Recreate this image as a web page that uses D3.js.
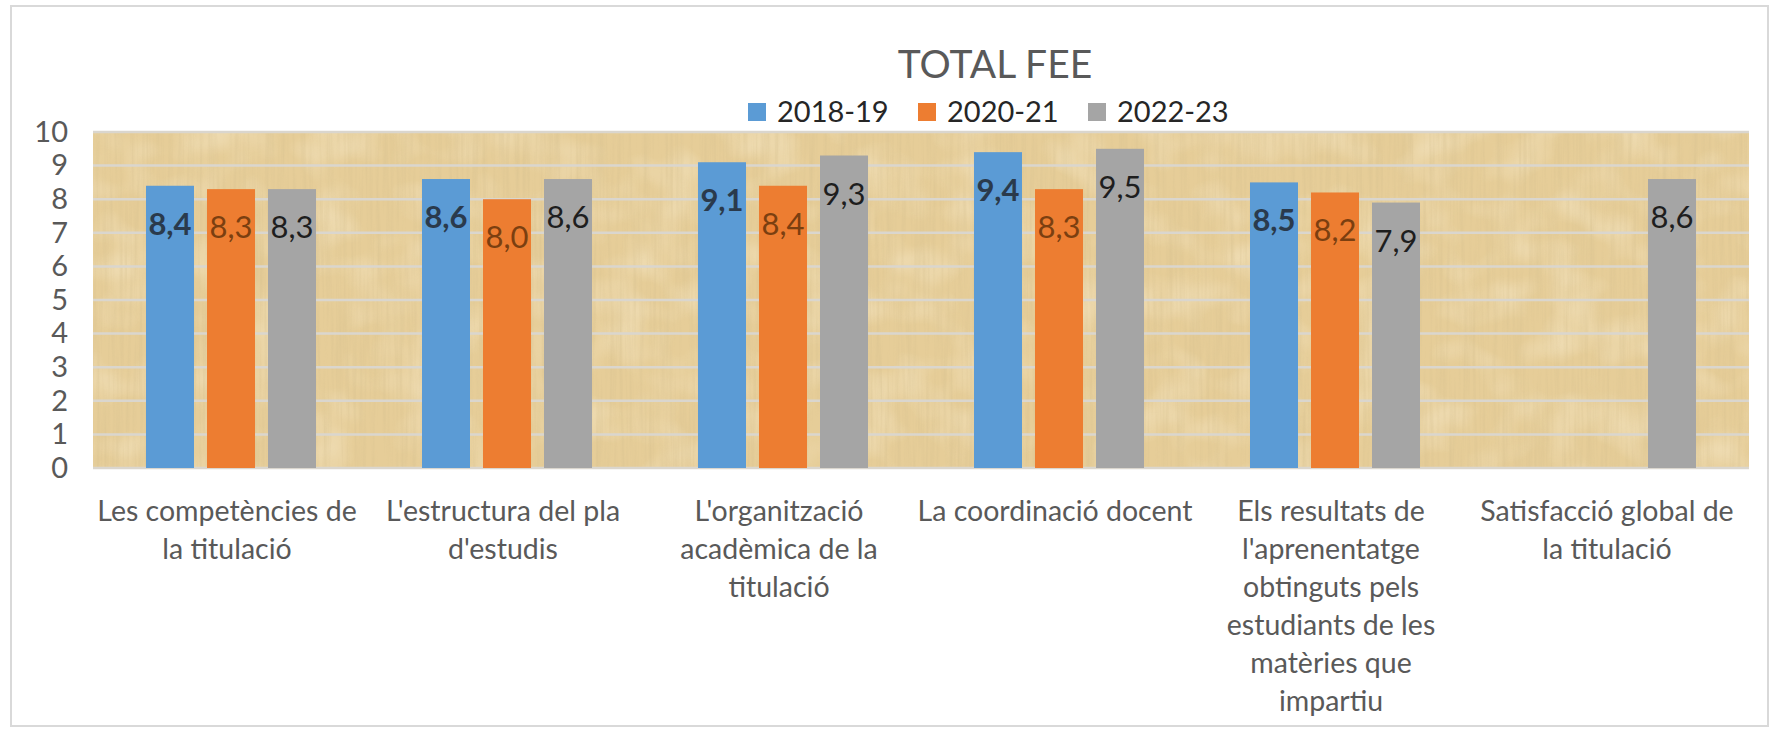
<!DOCTYPE html>
<meta charset="utf-8">
<style>
body { margin: 0; background: #fff; }
svg text { font-family: Lato, "Open Sans", sans-serif; }
</style>
<svg width="1776" height="732"></svg>
<script src="https://d3js.org/d3.v7.min.js"></script>
<script>
var categories = [
  "Les competències de\nla titulació",
  "L'estructura del pla\nd'estudis",
  "L'organització\nacadèmica de la\ntitulació",
  "La coordinació docent",
  "Els resultats de\nl'aprenentatge\nobtinguts pels\nestudiants de les\nmatèries que\nimpartiu",
  "Satisfacció global de\nla titulació"
];
var series = ["2018-19", "2020-21", "2022-23"];
var values2018 = [8.4, 8.6, 9.1, 9.4, 8.5, null];
var values2020 = [8.3, 8.0, 8.4, 8.3, 8.2, null];
var values2022 = [8.3, 8.6, 9.3, 9.5, 7.9, 8.6];
var yTicks = [0, 1, 2, 3, 4, 5, 6, 7, 8, 9, 10];

var colors = ["#5b9bd5", "#ed7d31", "#a5a5a5"];
var labelColors = ["#2a3a4c", "#7b3f10", "#1e1e1e"];
var labelWeights = [700, 400, 400];

var svg = d3.select("svg"),
    width = +svg.attr("width"),
    height = +svg.attr("height");

var plotLeft = 93, plotRight = 1749, plotTop = 132, plotBottom = 468;

var allValues = [values2018, values2020, values2022];
var rows = categories.map(function(c, i) {
  return { cat: c, vals: series.map(function(s, j) { return { key: s, idx: j, v: allValues[j][i] }; }) };
});

var x0 = d3.scaleBand().domain(categories).range([plotLeft, plotRight]).paddingInner(0.384).paddingOuter(0.192);
var x1 = d3.scaleBand().domain(series).range([0, x0.bandwidth()]).paddingInner(0.213);
var y = d3.scaleLinear().domain([0, 10]).range([plotBottom, plotTop]);

// chart frame
svg.append("rect")
    .attr("x", 11).attr("y", 6).attr("width", 1757).attr("height", 720)
    .attr("fill", "#fff").attr("stroke", "#d9d9d9").attr("stroke-width", 2);

// papyrus-like texture
var defs = svg.append("defs");
var f1 = defs.append("filter").attr("id", "fibers").attr("x", 0).attr("y", 0).attr("width", 1).attr("height", 1);
f1.append("feTurbulence").attr("type", "fractalNoise").attr("baseFrequency", "0.3 0.01").attr("numOctaves", 3).attr("seed", 7);
f1.append("feColorMatrix").attr("type", "matrix")
    .attr("values", "0 0 0 0 0.66  0 0 0 0 0.52  0 0 0 0 0.27  1.4 0 0 0 -0.55");
var f2 = defs.append("filter").attr("id", "light").attr("x", 0).attr("y", 0).attr("width", 1).attr("height", 1);
f2.append("feTurbulence").attr("type", "fractalNoise").attr("baseFrequency", "0.02 0.025").attr("numOctaves", 2).attr("seed", 3);
f2.append("feColorMatrix").attr("type", "matrix")
    .attr("values", "0 0 0 0 1  0 0 0 0 0.94  0 0 0 0 0.78  1.3 0 0 0 -0.55");

svg.append("rect")
    .attr("x", plotLeft).attr("y", plotTop).attr("width", plotRight - plotLeft).attr("height", plotBottom - plotTop)
    .attr("fill", "#e6cd98");
svg.append("rect")
    .attr("x", plotLeft).attr("y", plotTop).attr("width", plotRight - plotLeft).attr("height", plotBottom - plotTop)
    .attr("filter", "url(#light)").attr("opacity", 0.6);
svg.append("rect")
    .attr("x", plotLeft).attr("y", plotTop).attr("width", plotRight - plotLeft).attr("height", plotBottom - plotTop)
    .attr("filter", "url(#fibers)").attr("opacity", 0.55);

// gridlines
svg.append("g")
  .selectAll("line")
  .data(yTicks)
  .enter().append("line")
    .attr("x1", plotLeft).attr("x2", plotRight)
    .attr("y1", function(d) { return y(d); })
    .attr("y2", function(d) { return y(d); })
    .attr("stroke", "#dad6ce")
    .attr("stroke-width", 2.5);

// y axis
var yAxis = svg.append("g")
    .attr("transform", "translate(" + (plotLeft - 25) + ",0)")
    .call(d3.axisLeft(y).tickValues(yTicks).tickSize(0).tickPadding(0));
yAxis.select(".domain").remove();
yAxis.selectAll("text")
    .attr("font-family", "Lato, sans-serif")
    .attr("font-size", 29)
    .attr("fill", "#595959");

// bars
var groups = svg.append("g")
  .selectAll("g")
  .data(rows)
  .enter().append("g")
    .attr("transform", function(d) { return "translate(" + x0(d.cat) + ",0)"; });

groups.selectAll("rect")
  .data(function(d) { return d.vals.filter(function(v) { return v.v != null; }); })
  .enter().append("rect")
    .attr("x", function(d) { return x1(d.key); })
    .attr("width", x1.bandwidth())
    .attr("y", function(d) { return y(d.v); })
    .attr("height", function(d) { return y(0) - y(d.v); })
    .attr("fill", function(d) { return colors[d.idx]; });

groups.selectAll("text")
  .data(function(d) { return d.vals.filter(function(v) { return v.v != null; }); })
  .enter().append("text")
    .attr("x", function(d) { return x1(d.key) + x1.bandwidth() / 2; })
    .attr("y", function(d) { return y(d.v) + 49; })
    .attr("text-anchor", "middle")
    .attr("font-size", 31)
    .attr("font-weight", function(d) { return labelWeights[d.idx]; })
    .attr("fill", function(d) { return labelColors[d.idx]; })
    .text(function(d) { return d.v.toFixed(1).replace(".", ","); });

// category labels
var catLabels = svg.append("g")
  .selectAll("text")
  .data(categories)
  .enter().append("text")
    .attr("text-anchor", "middle")
    .attr("font-size", 28.5)
    .attr("fill", "#595959")
    .attr("transform", function(d) { return "translate(" + (x0(d) + x0.bandwidth() / 2 - 4) + ",521)"; });
catLabels.selectAll("tspan")
  .data(function(d) { return d.split("\n"); })
  .enter().append("tspan")
    .attr("x", 0)
    .attr("y", function(d, i) { return i * 38; })
    .text(function(d) { return d; });

// title
svg.append("text")
    .attr("x", 995).attr("y", 78)
    .attr("text-anchor", "middle")
    .attr("font-size", 39)
    .attr("fill", "#595959")
    .text("TOTAL FEE");

// legend
var legend = svg.append("g")
  .selectAll("g")
  .data(series)
  .enter().append("g")
    .attr("transform", function(d, i) { return "translate(" + (748 + i * 170) + ",103)"; });
legend.append("rect")
    .attr("width", 18).attr("height", 18)
    .attr("fill", function(d, i) { return colors[i]; });
legend.append("text")
    .attr("x", 29).attr("y", 19)
    .attr("font-size", 29)
    .attr("fill", "#262626")
    .text(function(d) { return d; });
</script>
